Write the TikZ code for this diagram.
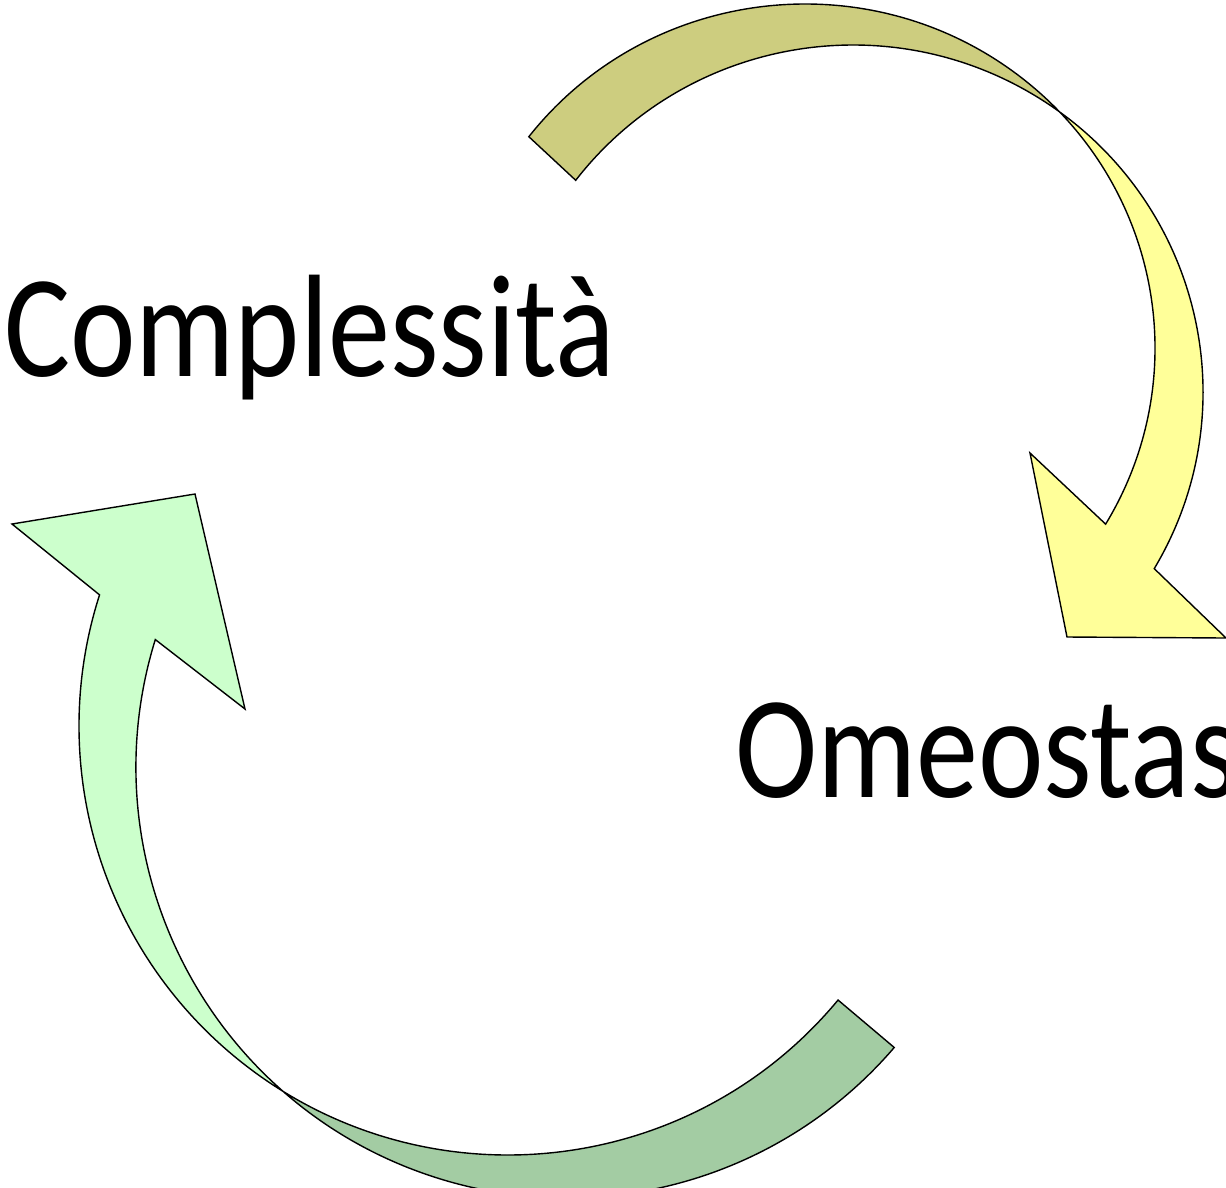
\documentclass[tikz,border=0pt]{standalone}
\usepackage{fontspec}
\setmainfont{Carlito}
\definecolor{tailolive}{HTML}{CDCD7F}
\definecolor{headyellow}{HTML}{FFFF99}
\definecolor{taildkgreen}{HTML}{A3CCA3}
\definecolor{headltgreen}{HTML}{CCFFCC}

% Outline of the upper curved arrow: outer arc, arrow head, inner arc back to the tail
\newcommand\toparrowoutline{([shift={(805,348)}]-142.1:350 and 344)
  arc[start angle=-142.1, end angle=30.8, x radius=350, y radius=344]
  -- (1030,453) -- (1067,637) -- (1226,638)
  -- ([shift={(853,392)}]30.6:350 and 347)
  arc[start angle=30.6, end angle=-142.4, x radius=350, y radius=347] -- cycle}

% Outline of the lower curved arrow: inner arc from the tail, arrow head, outer arc back
\newcommand\bottomarrowoutline{([shift={(508,726)}]39.7:429)
  arc[start angle=39.7, end angle=197.8, radius=429]
  -- (12,524) -- (195,494) -- (245,709)
  -- ([shift={(567,767)}]197.2:431)
  arc[start angle=197.2, end angle=40.6, radius=431] -- cycle}

\begin{document}
\begin{tikzpicture}[x=1pt,y=-1pt,
  outline/.style={draw=black, line width=1.4pt, line join=miter},
  lbl/.style={inner sep=0pt, anchor=base west, font=\fontsize{146}{175}\selectfont}]
\useasboundingbox (0,0) rectangle (1226,1187);
\clip (0,0) rectangle (1226,1187);
\fill[white] (0,0) rectangle (1226,1187);

% upper arrow: light head part, darker tail part
\fill[headyellow] \toparrowoutline;
\begin{scope}
  \clip (355,810) -- (1355,-190) -- (-200,-190) -- (-200,810) -- cycle;
  \fill[tailolive] \toparrowoutline;
\end{scope}
\path[outline] \toparrowoutline;

% lower arrow: light head part, darker tail part
\fill[headltgreen] \bottomarrowoutline;
\begin{scope}
  \clip (-125,1486) -- (1275,86) -- (1275,1486) -- cycle;
  \fill[taildkgreen] \bottomarrowoutline;
\end{scope}
\path[outline] \bottomarrowoutline;

\node[lbl] (complessita) at (4,376) {\scalebox{0.85}[1]{Complessità}};
\node[lbl] (omeostasi) at (735,797) {\scalebox{0.85}[1]{Omeostas}};
\end{tikzpicture}
\end{document}
